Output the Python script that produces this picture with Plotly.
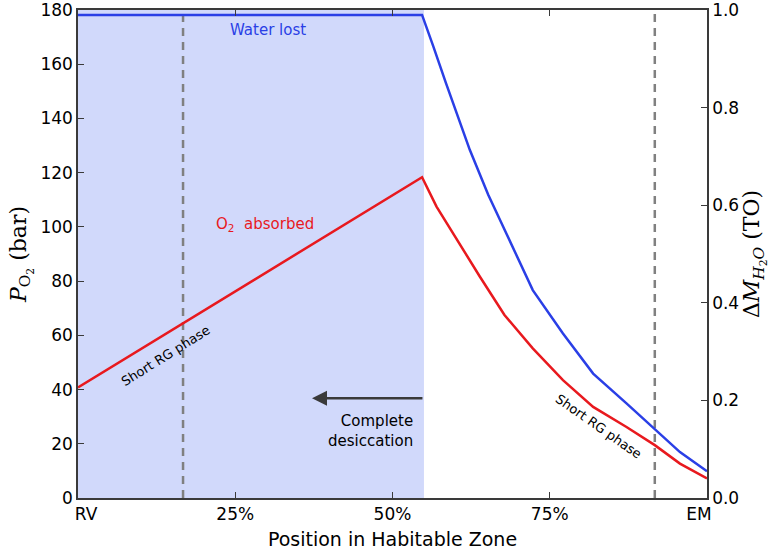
import plotly.graph_objects as go

# Position in habitable zone (%), 0 = RV, 100 = EM
x_water = [0, 54.7, 56.5, 58.5, 62.3, 65.2, 68.1, 72.3, 77.1, 81.9, 87.2, 91.7, 95.7, 100]
water_lost = [0.99, 0.99, 0.925, 0.85, 0.713, 0.622, 0.542, 0.426, 0.337, 0.255, 0.194, 0.142, 0.094, 0.055]  # TO

x_o2 = [0, 54.7, 57.0, 59.6, 63.9, 67.8, 72.3, 77.1, 81.9, 87.2, 91.7, 95.7, 100]
o2_absorbed = [40.8, 118.3, 107.5, 97.6, 81.6, 67.5, 55.2, 43.5, 33.6, 26.2, 19.5, 12.7, 7.2]  # bar

NB = "\u00a0"
x_tickvals = [0, 25, 50, 75, 100]
x_ticktext = [NB * 3 + "RV", "25%", "50%", "75%", "EM" + NB * 3]
y1_ticks = [0, 20, 40, 60, 80, 100, 120, 140, 160, 180]
y2_ticks = [0.0, 0.2, 0.4, 0.6, 0.8, 1.0]

desiccation_edge = 55
short_rg = [16.7, 91.7]

BLUE = "#2a3fe6"
RED = "#e8191e"
AXC = "#3a3a3a"

fig = go.Figure()
fig.add_trace(go.Scatter(x=x_o2, y=o2_absorbed, mode="lines",
                         line=dict(color=RED, width=2.5), yaxis="y", showlegend=False))
fig.add_trace(go.Scatter(x=x_water, y=water_lost, mode="lines",
                         line=dict(color=BLUE, width=2.5), yaxis="y2", showlegend=False))

shapes = [dict(type="rect", xref="x", yref="paper", x0=0, x1=desiccation_edge, y0=0, y1=1,
               fillcolor="#d1d9fb", line=dict(width=0), layer="below")]
for xv in short_rg:
    shapes.append(dict(type="line", xref="x", yref="paper", x0=xv, x1=xv, y0=0, y1=1,
                       line=dict(color="#808080", width=2.5, dash="8px,6px"), layer="below"))

annotations = [
    dict(x=30.2, y=0.96, xref="x", yref="y2", text="Water lost", showarrow=False,
         font=dict(color=BLUE, size=15, family="DejaVu Sans")),
    dict(x=29.8, y=101, xref="x", yref="y", text="O<sub>2</sub>  absorbed", showarrow=False,
         font=dict(color=RED, size=15, family="DejaVu Sans")),
    dict(x=14, y=52.5, xref="x", yref="y", text="Short RG phase", showarrow=False,
         textangle=-32, font=dict(color="black", size=13, family="DejaVu Sans")),
    dict(x=82.8, y=26.5, xref="x", yref="y", text="Short RG phase", showarrow=False,
         textangle=35, font=dict(color="black", size=13, family="DejaVu Sans")),
    dict(x=37.2, y=36.8, ax=desiccation_edge, ay=36.8, xref="x", yref="y", axref="x", ayref="y",
         text="", showarrow=True, arrowhead=2, arrowsize=1.2, arrowwidth=2.5, arrowcolor=AXC),
    dict(x=53.6, y=24.8, xref="x", yref="y", text="Complete<br>desiccation", showarrow=False,
         xanchor="right", align="right", font=dict(color="black", size=15, family="DejaVu Sans")),
]

fig.update_layout(
    width=780, height=553,
    margin=dict(l=78, r=73, t=10, b=55),
    plot_bgcolor="white", paper_bgcolor="white",
    shapes=shapes, annotations=annotations,
    font=dict(family="DejaVu Sans", color="black"),
    xaxis=dict(range=[0, 100], tickvals=x_tickvals, ticktext=x_ticktext, automargin=False,
               ticks="inside", ticklen=6, tickcolor=AXC, showline=True, linecolor=AXC, linewidth=1.5,
               mirror="ticks", showgrid=False, zeroline=False, tickfont=dict(size=17),
               ticklabeloverflow="allow",
               title=dict(text="Position in Habitable Zone", font=dict(size=19), standoff=10)),
    yaxis=dict(range=[0, 180], tickvals=y1_ticks, ticks="inside", ticklen=6, tickcolor=AXC,
               automargin=False, ticklabeloverflow="allow",
               showline=True, linecolor=AXC, linewidth=1.5, showgrid=False, zeroline=False,
               tickfont=dict(size=17),
               title=dict(text="<i>P</i><sub>O<sub>2</sub></sub> (bar)",
                          font=dict(size=22, family="DejaVu Serif"), standoff=8)),
    yaxis2=dict(range=[0, 1], tickvals=y2_ticks, tickformat=".1f", overlaying="y", side="right",
                automargin=False, ticklabeloverflow="allow",
                ticks="inside", ticklen=6, tickcolor=AXC, showline=True, linecolor=AXC, linewidth=1.5,
                showgrid=False, zeroline=False, tickfont=dict(size=17),
                title=dict(text="Δ<i>M</i><sub><i>H</i><sub>2</sub><i>O</i></sub> (TO)",
                           font=dict(size=22, family="DejaVu Serif"), standoff=4)),
)

fig.write_html("out.html", post_script="document.body.style.margin='0';",
               config={"displayModeBar": False})
